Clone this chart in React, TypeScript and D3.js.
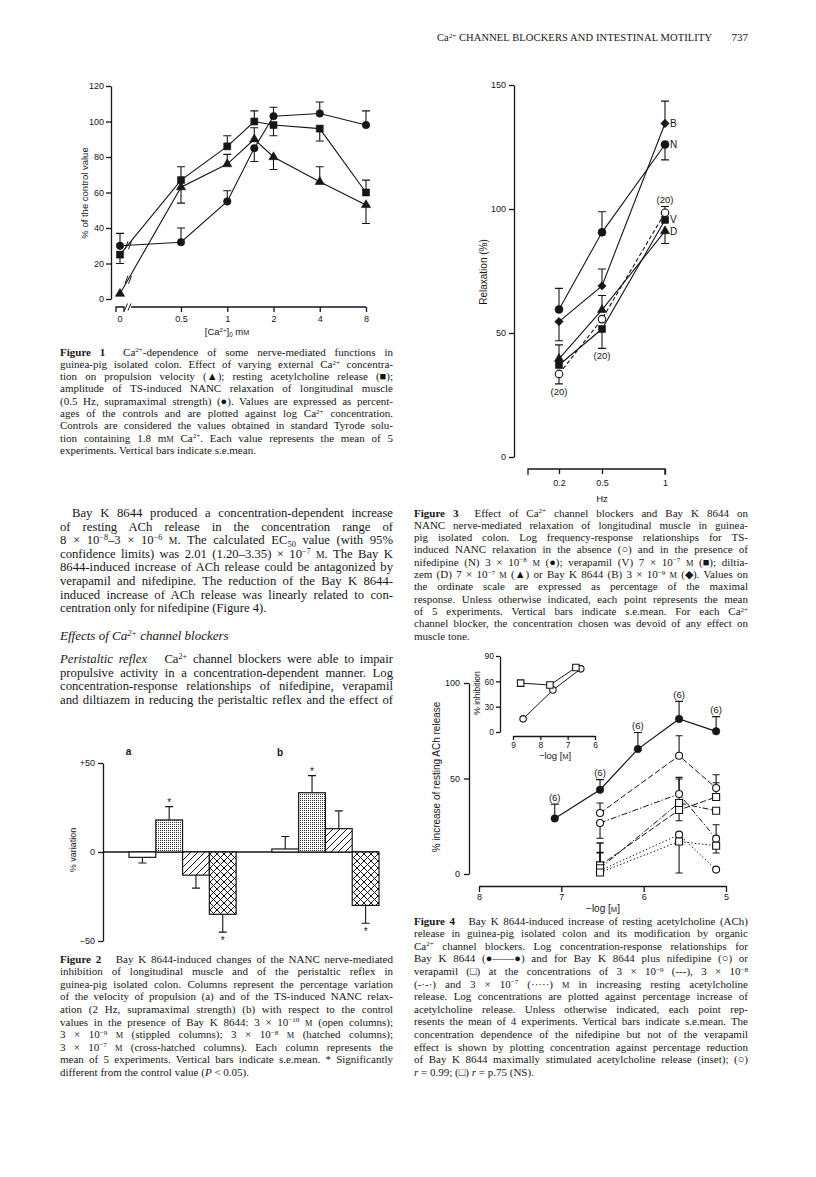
import React, { useEffect, useRef } from "react";
import * as d3 from "d3";

const SERIF = "'Liberation Serif', 'Times New Roman', Times, serif";
const SANS = "'Liberation Sans', Arial, Helvetica, sans-serif";
const INK = "#161616";

// ---- page header ----
const headerTitle = "Ca^{2+} CHANNEL BLOCKERS AND INTESTINAL MOTILITY";
const pageNumber = "737";

// ---- Figure 1: external Ca2+ (mM) ----
const fig1Conc = [0, 0.5, 1, 1.5, 2, 4, 8];
const fig1XTicks = [0, 0.5, 1, 2, 4, 8];
const fig1YTicks = [0, 20, 40, 60, 80, 100, 120];
const fig1Velocity = [3, 63, 76, 90, 80, 66, 53]; // triangles
const fig1VelocityErr = [0, -9, 5.5, 6.5, -7, 8.5, -10.5];
const fig1ACh = [25, 67, 86, 100, 98, 96, 60]; // squares
const fig1AChErr = [-5, 7.5, 6, 6, -6, -7, 7];
const fig1NANC = [30, 32, 55, 85, 103, 104.5, 98]; // circles
const fig1NANCErr = [7, 8, 6, -7.5, 5, 6.5, 8];

// ---- Figure 2: % variation ----
const fig2Groups = ["a", "b"];
const fig2Doses = ["3e-10", "3e-9", "3e-8", "3e-7"];
const fig2YTicks = [-50, 0, 50];
const fig2YLabels = ["\u221250", "0", "+50"];
const fig2Propulsion = [-3, 18, -13, -35];
const fig2PropulsionErr = [-3.2, 7.5, -7.3, -10];
const fig2Relaxation = [1.7, 33.3, 13.1, -30];
const fig2RelaxationErr = [7, 9.6, 10, -10];
const fig2Significant = [
  [false, true, false, true],
  [false, true, false, true],
];

// ---- Figure 3: relaxation vs Hz ----
const fig3Freq = [0.2, 0.5, 1];
const fig3FreqLabels = ["0.2", "0.5", "1"];
const fig3YTicks = [0, 50, 100, 150];
const fig3Control = [33.5, 55.6, 98.5];
const fig3ControlErr = [-4, 0, 2.5];
const fig3Nifedipine = [59.5, 90.6, 126];
const fig3NifedipineErr = [8.5, 8.3, -6.2];
const fig3Verapamil = [37.1, 51.6, 95.6];
const fig3VerapamilErr = [0, -7.8, 0];
const fig3Diltiazem = [39.6, 59.3, 91.1];
const fig3DiltiazemErr = [5.6, 5.8, -5];
const fig3BayK = [54.6, 69, 134.5];
const fig3BayKErr = [-7.7, 6.8, 9];

// ---- Figure 4: -log [M] ----
const fig4XTicks = [8, 7, 6, 5];
const fig4YTicks = [0, 50, 100];
const fig4BayKX = [7.08, 6.53, 6.07, 5.57, 5.12];
const fig4BayK = [29.1, 44.1, 65.4, 81.2, 74.7];
const fig4BayKErr = [7.5, 5.3, 8.7, 9.2, 7.7];
const fig4ComboX = [6.53, 5.57, 5.12];
const fig4Nif9 = [31.9, 61.9, 45];
const fig4Nif9Err = [5.3, 10.5, 7];
const fig4Nif8 = [26.7, 41.9, 18.5];
const fig4Nif8Err = [-8, 8.7, 7.3];
const fig4Nif7 = [1.8, 20.6, 2.3];
const fig4Nif7Err = [9.5, 0, 0];
const fig4Ver9 = [4.5, 33.5, 40.3];
const fig4Ver9Err = [11.7, -5.6, 7.5];
const fig4Ver8 = [3, 37.2, 33.1];
const fig4Ver8Err = [13.2, 12.5, 0];
const fig4Ver7 = [0.8, 17, 14.8];
const fig4Ver7Err = [10.2, -16.5, -3.8];
// inset
const insetXTicks = [9, 8, 7, 6];
const insetYTicks = [0, 30, 60, 90];
const insetNifX = [8.63, 7.54, 6.52];
const insetNif = [15.6, 49.7, 74.8];
const insetVerX = [8.72, 7.65, 6.7];
const insetVer = [57.9, 55.6, 76.4];

// ---- text ----
const fig1Caption = [
  "**Figure 1**  Ca^{2+}-dependence of some nerve-mediated functions in",
  "guinea-pig isolated colon. Effect of varying external Ca^{2+} concentra-",
  "tion on propulsion velocity (\u25B2); resting acetylcholine release (\u25A0);",
  "amplitude of TS-induced NANC relaxation of longitudinal muscle",
  "(0.5 Hz, supramaximal strength) (\u25CF). Values are expressed as percent-",
  "ages of the controls and are plotted against log Ca^{2+} concentration.",
  "Controls are considered the values obtained in standard Tyrode solu-",
  "tion containing 1.8 m%M Ca^{2+}. Each value represents the mean of 5",
  "experiments. Vertical bars indicate s.e.mean.",
];
const bodyPara1 = [
  "Bay K 8644 produced a concentration-dependent increase",
  "of resting ACh release in the concentration range of",
  "8 \u00D7 10^{\u22128}\u20133 \u00D7 10^{\u22126} %M. The calculated EC_{50} value (with 95%",
  "confidence limits) was 2.01 (1.20\u20133.35) \u00D7 10^{\u22127} %M. The Bay K",
  "8644-induced increase of ACh release could be antagonized by",
  "verapamil and nifedipine. The reduction of the Bay K 8644-",
  "induced increase of ACh release was linearly related to con-",
  "centration only for nifedipine (Figure 4).",
];
const heading = "Effects of Ca^{2+} channel blockers";
const bodyPara2 = [
  "*Peristaltic reflex*   Ca^{2+} channel blockers were able to impair",
  "propulsive activity in a concentration-dependent manner. Log",
  "concentration-response relationships of nifedipine, verapamil",
  "and diltiazem in reducing the peristaltic reflex and the effect of",
];
const fig2Caption = [
  "**Figure 2**   Bay K 8644-induced changes of the NANC nerve-mediated",
  "inhibition of longitudinal muscle and of the peristaltic reflex in",
  "guinea-pig isolated colon. Columns represent the percentage variation",
  "of the velocity of propulsion (a) and of the TS-induced NANC relax-",
  "ation (2 Hz, supramaximal strength) (b) with respect to the control",
  "values in the presence of Bay K 8644: 3 \u00D7 10^{\u221210} %M (open columns);",
  "3 \u00D7 10^{\u22129} %M (stippled columns); 3 \u00D7 10^{\u22128} %M (hatched columns);",
  "3 \u00D7 10^{\u22127} %M (cross-hatched columns). Each column represents the",
  "mean of 5 experiments. Vertical bars indicate s.e.mean. * Significantly",
  "different from the control value (*P* < 0.05).",
];
const fig3Caption = [
  "**Figure 3**  Effect of Ca^{2+} channel blockers and Bay K 8644 on",
  "NANC nerve-mediated relaxation of longitudinal muscle in guinea-",
  "pig isolated colon. Log frequency-response relationships for TS-",
  "induced NANC relaxation in the absence (\u25CB) and in the presence of",
  "nifedipine (N) 3 \u00D7 10^{\u22128} %M (\u25CF); verapamil (V) 7 \u00D7 10^{\u22127} %M (\u25A0); diltia-",
  "zem (D) 7 \u00D7 10^{\u22127} %M (\u25B2) or Bay K 8644 (B) 3 \u00D7 10^{\u22129} %M (\u25C6). Values on",
  "the ordinate scale are expressed as percentage of the maximal",
  "response. Unless otherwise indicated, each point represents the mean",
  "of 5 experiments. Vertical bars indicate s.e.mean. For each Ca^{2+}",
  "channel blocker, the concentration chosen was devoid of any effect on",
  "muscle tone.",
];
const fig4Caption = [
  "**Figure 4**   Bay K 8644-induced increase of resting acetylcholine (ACh)",
  "release in guinea-pig isolated colon and its modification by organic",
  "Ca^{2+} channel blockers. Log concentration-response relationships for",
  "Bay K 8644 (\u25CF\u2014\u2014\u25CF) and for Bay K 8644 plus nifedipine (\u25CB) or",
  "verapamil (\u25A1) at the concentrations of 3 \u00D7 10^{\u22129} (---), 3 \u00D7 10^{\u22128}",
  "(-\u00B7-\u00B7) and 3 \u00D7 10^{\u22127} (\u00B7\u00B7\u00B7\u00B7\u00B7) %M in increasing resting acetylcholine",
  "release. Log concentrations are plotted against percentage increase of",
  "acetylcholine release. Unless otherwise indicated, each point rep-",
  "resents the mean of 4 experiments. Vertical bars indicate s.e.mean. The",
  "concentration dependence of the nifedipine but not of the verapamil",
  "effect is shown by plotting concentration against percentage reduction",
  "of Bay K 8644 maximally stimulated acetylcholine release (inset); (\u25CB)",
  "*r* = 0.99; (\u25A1) *r* = p.75 (NS).",
];

// markup: ^{sup} _{sub} **bold** *italic* %M (small capital M)
function rich(text: any, str: string, fs: number) {
  const parts = str
    .split(/(\^\{[^}]*\}|_\{[^}]*\}|\*\*[^*]+\*\*|\*[^*\s][^*]*\*|%M)/g)
    .filter((p) => p);
  let shift = 0;
  for (const p of parts) {
    let t = p;
    let size: number | null = null;
    let target = 0;
    let weight: string | null = null;
    let style: string | null = null;
    if (p.startsWith("^{")) {
      t = p.slice(2, -1);
      size = fs * 0.64;
      target = -fs * 0.3;
    } else if (p.startsWith("_{")) {
      t = p.slice(2, -1);
      size = fs * 0.66;
      target = fs * 0.25;
    } else if (p.startsWith("**")) {
      t = p.slice(2, -2);
      weight = "bold";
    } else if (p.length > 2 && p.startsWith("*") && p.endsWith("*")) {
      t = p.slice(1, -1);
      style = "italic";
    } else if (p === "%M") {
      t = "M";
      size = fs * 0.76;
    }
    const ts = text.append("tspan").text(t);
    if (target !== shift) {
      ts.attr("dy", target - shift);
      shift = target;
    }
    if (size) ts.attr("font-size", size);
    if (weight) ts.attr("font-weight", weight);
    if (style) ts.attr("font-style", style);
  }
}

// justified paragraph: widen the word gaps to fill the column
function para(g: any, lines: string[], o: any) {
  lines.forEach((ln, i) => {
    const x = o.x + (i === 0 && o.indent ? o.indent : 0);
    const t = g
      .append("text")
      .attr("x", x)
      .attr("y", o.y + i * o.lh)
      .attr("font-family", SERIF)
      .attr("font-size", o.fs)
      .attr("fill", INK)
      .style("white-space", "pre");
    rich(t, ln, o.fs);
    if (i < lines.length - 1 || o.justifyLast) {
      const target = o.w - (x - o.x);
      const node = t.node();
      const natural = node.getComputedTextLength();
      const spaces = (node.textContent.match(/ /g) || []).length;
      if (spaces > 0) t.attr("word-spacing", (target - natural) / spaces);
      const after = node.getComputedTextLength();
      if (Math.abs(after - target) > 2) {
        t.attr("word-spacing", null).attr("textLength", target).attr("lengthAdjust", "spacing");
      }
    }
  });
}

function styleAxis(a: any, fs: number) {
  a.attr("font-family", SANS).attr("font-size", fs);
  a.selectAll(".domain").attr("stroke", INK).attr("stroke-width", 1.3);
  a.selectAll(".tick line").attr("stroke", INK).attr("stroke-width", 1.3);
  a.selectAll(".tick text").attr("fill", INK);
}

function marker(g: any, shape: string, cx: number, cy: number, filled: boolean, size: number) {
  const types: any = {
    circle: d3.symbolCircle,
    square: d3.symbolSquare,
    triangle: d3.symbolTriangle,
    diamond: d3.symbolSquare,
  };
  const area =
    shape === "circle"
      ? Math.PI * (size / 2) ** 2
      : shape === "triangle"
      ? size * size * 0.45
      : shape === "diamond"
      ? size * size * 0.55
      : size * size;
  g.append("path")
    .attr("d", d3.symbol(types[shape], area)())
    .attr("transform", `translate(${cx},${cy})${shape === "diamond" ? " rotate(45)" : ""}`)
    .attr("fill", filled ? INK : "#fff")
    .attr("stroke", INK)
    .attr("stroke-width", filled ? 0.6 : 1.1);
}

function errBar(g: any, x: number, y0: number, y1: number, cap = 4) {
  g.append("path")
    .attr("d", `M${x},${y0}V${y1}M${x - cap},${y1}H${x + cap}`)
    .attr("fill", "none")
    .attr("stroke", INK)
    .attr("stroke-width", 1.1);
}

function sansText(g: any, x: number, y: number, str: string, fs: number, anchor = "middle", rotate = false) {
  const t = g
    .append("text")
    .attr("font-family", SANS)
    .attr("font-size", fs)
    .attr("fill", INK)
    .attr("text-anchor", anchor);
  if (rotate) t.attr("transform", `translate(${x},${y}) rotate(-90)`);
  else t.attr("x", x).attr("y", y);
  rich(t, str, fs);
  return t;
}

function drawFig1(root: any) {
  const g = root.append("g");
  const x = d3.scaleLog().base(2).domain([0.5, 8]).range([181, 366]);
  const xAt = (c: number) => (c === 0 ? 120 : x(c));
  const y = d3.scaleLinear().domain([0, 120]).range([299, 86]);

  const ya = g
    .append("g")
    .attr("transform", "translate(111,0)")
    .call(d3.axisLeft(y).tickValues(fig1YTicks).tickSize(5).tickSizeOuter(0).tickPadding(2));
  styleAxis(ya, 9);

  const xa = g
    .append("g")
    .attr("transform", "translate(0,307)")
    .call(
      d3
        .axisBottom(x)
        .tickValues(fig1XTicks.filter((c) => c > 0))
        .tickFormat((d: any) => String(d))
        .tickSize(5)
        .tickSizeOuter(0)
        .tickPadding(4)
    );
  xa.select(".domain").remove();
  styleAxis(xa, 9);
  // axis with a break after zero
  g.append("path")
    .attr("d", `M${xAt(0) - 4},312V307H${xAt(0) + 4}V312M131,307H${x(8)}`)
    .attr("fill", "none")
    .attr("stroke", INK)
    .attr("stroke-width", 1.3);
  g.append("path")
    .attr("d", "M124.5,310.5L127.5,303.5M128,310.5L131,303.5")
    .attr("stroke", INK)
    .attr("stroke-width", 1);
  sansText(g, xAt(fig1XTicks[0]), 321.5, String(fig1XTicks[0]), 9);

  sansText(g, 227, 335, "[Ca^{2+}]_{0} m%M", 9.5);
  sansText(g, 88, 193, "% of the control value", 9.5, "middle", true);

  const series = [
    { v: fig1ACh, e: fig1AChErr, shape: "square", size: 7 },
    { v: fig1Velocity, e: fig1VelocityErr, shape: "triangle", size: 9 },
    { v: fig1NANC, e: fig1NANCErr, shape: "circle", size: 7.5 },
  ];
  const line = d3
    .line<number>()
    .x((_, i) => xAt(fig1Conc[i]))
    .y((v) => y(v));
  series.forEach((s) => {
    g.append("path").attr("d", line(s.v)).attr("fill", "none").attr("stroke", INK).attr("stroke-width", 1.1);
    s.v.forEach((v, i) => {
      if (s.e[i]) errBar(g, xAt(fig1Conc[i]), y(v), y(v + s.e[i]), 4);
    });
  });
  // break marks on the curves leaving zero
  [fig1NANC, fig1Velocity].forEach((vals) => {
    const bx = 128;
    const t = (bx - xAt(0)) / (xAt(0.5) - xAt(0));
    const by = y(vals[0]) + (y(vals[1]) - y(vals[0])) * t;
    g.append("path")
      .attr("d", `M${bx - 3},${by + 4}L${bx},${by - 4}M${bx + 0.5},${by + 4}L${bx + 3.5},${by - 4}`)
      .attr("stroke", INK)
      .attr("stroke-width", 1);
  });
  series.forEach((s) =>
    s.v.forEach((v, i) => marker(g, s.shape, xAt(fig1Conc[i]), y(v), true, s.size))
  );
}

function drawFig2(root: any) {
  const g = root.append("g");
  const y = d3.scaleLinear().domain([-50, 50]).range([941, 763]);
  const gx = d3.scaleBand().domain(fig2Groups).range([129, 379]).paddingInner(0.25).paddingOuter(0);
  const dx = d3.scaleBand().domain(fig2Doses).range([0, gx.bandwidth()]);

  const ya = g
    .append("g")
    .attr("transform", "translate(103,0)")
    .call(
      d3
        .axisLeft(y)
        .tickValues(fig2YTicks)
        .tickFormat((_: any, i: number) => fig2YLabels[i])
        .tickSize(5)
        .tickSizeOuter(0)
        .tickPadding(3)
    );
  styleAxis(ya, 9);
  g.append("path")
    .attr("d", `M103,${y(0)}H${(gx("b") as number) + gx.bandwidth()}`)
    .attr("stroke", INK)
    .attr("stroke-width", 1.3);

  sansText(g, 76, 850, "% variation", 9, "middle", true);
  g.append("text").attr("x", 128.5).attr("y", 754.5).attr("font-family", SANS).attr("font-size", 10).attr("font-weight", "bold").attr("text-anchor", "middle").attr("fill", INK).text(fig2Groups[0]);
  g.append("text").attr("x", 280).attr("y", 756).attr("font-family", SANS).attr("font-size", 10).attr("font-weight", "bold").attr("text-anchor", "middle").attr("fill", INK).text(fig2Groups[1]);

  const fills = ["#fff", "url(#stipple)", "url(#hatch)", "url(#cross)"];
  [fig2Propulsion, fig2Relaxation].forEach((vals, gi) => {
    const errs = gi === 0 ? fig2PropulsionErr : fig2RelaxationErr;
    vals.forEach((v, i) => {
      const bx = (gx(fig2Groups[gi]) as number) + (dx(fig2Doses[i]) as number);
      const w = dx.bandwidth();
      const cx = bx + w / 2;
      errBar(g, cx, y(v), y(v + errs[i]), 4);
      g.append("rect")
        .attr("x", bx)
        .attr("y", Math.min(y(v), y(0)))
        .attr("width", w)
        .attr("height", Math.abs(y(v) - y(0)))
        .attr("fill", fills[i])
        .attr("stroke", INK)
        .attr("stroke-width", 1.2);
      if (fig2Significant[gi][i]) {
        const ey = y(v + errs[i]);
        g.append("text")
          .attr("x", cx)
          .attr("y", errs[i] > 0 ? ey - 1 : ey + 12)
          .attr("font-family", SANS)
          .attr("font-size", 10)
          .attr("text-anchor", "middle")
          .attr("fill", INK)
          .text("*");
      }
    });
  });
}

function drawFig3(root: any) {
  const g = root.append("g");
  const x = d3.scaleLinear().domain(fig3Freq).range([559, 602, 665]);
  const y = d3.scaleLinear().domain([0, 150]).range([457, 85]);

  const ya = g
    .append("g")
    .attr("transform", "translate(514,0)")
    .call(d3.axisLeft(y).tickValues(fig3YTicks).tickSize(5).tickSizeOuter(0).tickPadding(3));
  styleAxis(ya, 9);
  const xa = g
    .append("g")
    .attr("transform", "translate(0,469)")
    .call(
      d3
        .axisBottom(x)
        .tickValues(fig3Freq)
        .tickFormat((_: any, i: number) => fig3FreqLabels[i])
        .tickSize(5)
        .tickSizeOuter(0)
        .tickPadding(6)
    );
  xa.select(".domain").remove();
  styleAxis(xa, 9);
  g.append("path")
    .attr("d", `M528,475V469H${x(1)}V475`)
    .attr("fill", "none")
    .attr("stroke", INK)
    .attr("stroke-width", 1.3);
  sansText(g, 602, 502, "Hz", 9.5);
  sansText(g, 487, 272, "Relaxation (%)", 10, "middle", true);

  const series = [
    { v: fig3Control, e: fig3ControlErr, shape: "circle", filled: false, size: 7.5, dash: "4,2.5", label: "" },
    { v: fig3Verapamil, e: fig3VerapamilErr, shape: "square", filled: true, size: 7, dash: null, label: "V" },
    { v: fig3Diltiazem, e: fig3DiltiazemErr, shape: "triangle", filled: true, size: 9, dash: null, label: "D" },
    { v: fig3BayK, e: fig3BayKErr, shape: "diamond", filled: true, size: 8, dash: null, label: "B" },
    { v: fig3Nifedipine, e: fig3NifedipineErr, shape: "circle", filled: true, size: 8, dash: null, label: "N" },
  ];
  const line = d3
    .line<number>()
    .x((_, i) => x(fig3Freq[i]))
    .y((v) => y(v));
  series.forEach((s) => {
    g.append("path")
      .attr("d", line(s.v))
      .attr("fill", "none")
      .attr("stroke", INK)
      .attr("stroke-width", 1.1)
      .attr("stroke-dasharray", s.dash);
    s.v.forEach((v, i) => {
      if (s.e[i]) errBar(g, x(fig3Freq[i]), y(v), y(v + s.e[i]), 4);
    });
  });
  series.forEach((s) => {
    s.v.forEach((v, i) => marker(g, s.shape, x(fig3Freq[i]), y(v), s.filled, s.size));
    if (s.label) sansText(g, x(1) + 5, y(s.v[2]) + 3.5, s.label, 10, "start");
  });
  sansText(g, x(fig3Freq[0]), y(fig3Control[0] + fig3ControlErr[0]) + 11, "(20)", 9.5);
  sansText(g, x(fig3Freq[1]), y(fig3Verapamil[1] + fig3VerapamilErr[1]) + 10.5, "(20)", 9.5);
  sansText(g, x(fig3Freq[2]), y(fig3Control[2] + fig3ControlErr[2]) - 3.5, "(20)", 9.5);
}

function drawFig4(root: any) {
  const g = root.append("g");
  const x = d3.scaleLinear().domain([8, 5]).range([479, 726]);
  const y = d3.scaleLinear().domain([0, 100]).range([874, 683]);

  const ya = g
    .append("g")
    .attr("transform", "translate(469,0)")
    .call(d3.axisLeft(y).tickValues(fig4YTicks).tickSize(5).tickSizeOuter(0).tickPadding(4));
  styleAxis(ya, 9);
  const xa = g
    .append("g")
    .attr("transform", "translate(0,886)")
    .call(
      d3
        .axisBottom(x)
        .tickValues(fig4XTicks)
        .tickFormat(d3.format("d"))
        .tickSize(6)
        .tickSizeOuter(0)
        .tickPadding(2)
    );
  styleAxis(xa, 9);
  sansText(g, 603, 912, "\u2212log [%M]", 10);
  sansText(g, 440, 777, "% increase of resting ACh release", 10, "middle", true);

  const combos = [
    { v: fig4Nif9, e: fig4Nif9Err, shape: "circle", dash: "6,2.5" },
    { v: fig4Nif8, e: fig4Nif8Err, shape: "circle", dash: "6,2,1.5,2" },
    { v: fig4Nif7, e: fig4Nif7Err, shape: "circle", dash: "1.4,2.2" },
    { v: fig4Ver9, e: fig4Ver9Err, shape: "square", dash: "6,2.5" },
    { v: fig4Ver8, e: fig4Ver8Err, shape: "square", dash: "6,2,1.5,2" },
    { v: fig4Ver7, e: fig4Ver7Err, shape: "square", dash: "1.4,2.2" },
  ];
  const comboLine = d3
    .line<number>()
    .x((_, i) => x(fig4ComboX[i]))
    .y((v) => y(v));
  combos.forEach((s) => {
    g.append("path")
      .attr("d", comboLine(s.v))
      .attr("fill", "none")
      .attr("stroke", INK)
      .attr("stroke-width", 1)
      .attr("stroke-dasharray", s.dash);
    s.v.forEach((v, i) => {
      if (s.e[i]) errBar(g, x(fig4ComboX[i]), y(v), y(v + s.e[i]), 3.5);
    });
  });
  const bayLine = d3
    .line<number>()
    .x((_, i) => x(fig4BayKX[i]))
    .y((v) => y(v));
  g.append("path").attr("d", bayLine(fig4BayK)).attr("fill", "none").attr("stroke", INK).attr("stroke-width", 1.2);
  fig4BayK.forEach((v, i) => {
    errBar(g, x(fig4BayKX[i]), y(v), y(v + fig4BayKErr[i]), 4);
    sansText(g, x(fig4BayKX[i]), y(v + fig4BayKErr[i]) - 3.5, "(6)", 9.5);
  });
  combos.forEach((s) => s.v.forEach((v, i) => marker(g, s.shape, x(fig4ComboX[i]), y(v), false, 7)));
  fig4BayK.forEach((v, i) => marker(g, "circle", x(fig4BayKX[i]), y(v), true, 7.5));

  // inset
  const xi = d3.scaleLinear().domain([9, 6]).range([513, 595]);
  const yi = d3.scaleLinear().domain([0, 90]).range([732, 656]);
  const yia = g
    .append("g")
    .attr("transform", "translate(500,0)")
    .call(d3.axisLeft(yi).tickValues(insetYTicks).tickSize(4).tickSizeOuter(0).tickPadding(2));
  styleAxis(yia, 8.5);
  const xia = g
    .append("g")
    .attr("transform", "translate(0,736)")
    .call(
      d3
        .axisBottom(xi)
        .tickValues(insetXTicks)
        .tickFormat(d3.format("d"))
        .tickSize(4)
        .tickSizeOuter(0)
        .tickPadding(1.5)
    );
  styleAxis(xia, 8.5);
  sansText(g, 555, 758.5, "\u2212log [%M]", 9.5);
  sansText(g, 480, 693, "% inhibition", 8.5, "middle", true);
  const nifLine = d3
    .line<number>()
    .x((_, i) => xi(insetNifX[i]))
    .y((v) => yi(v));
  const verLine = d3
    .line<number>()
    .x((_, i) => xi(insetVerX[i]))
    .y((v) => yi(v));
  g.append("path").attr("d", nifLine(insetNif)).attr("fill", "none").attr("stroke", INK).attr("stroke-width", 1);
  g.append("path").attr("d", verLine(insetVer)).attr("fill", "none").attr("stroke", INK).attr("stroke-width", 1);
  insetNif.forEach((v, i) => marker(g, "circle", xi(insetNifX[i]), yi(v), false, 6.5));
  insetVer.forEach((v, i) => marker(g, "square", xi(insetVerX[i]), yi(v), false, 6.5));
}

function drawText(root: any) {
  const g = root.append("g");
  const h = g
    .append("text")
    .attr("x", 437)
    .attr("y", 41)
    .attr("font-family", SERIF)
    .attr("font-size", 10.5)
    .attr("fill", INK)
    .attr("textLength", 275)
    .attr("lengthAdjust", "spacing");
  rich(h, headerTitle, 10.5);
  g.append("text")
    .attr("x", 748)
    .attr("y", 41)
    .attr("text-anchor", "end")
    .attr("font-family", SERIF)
    .attr("font-size", 11)
    .attr("fill", INK)
    .text(pageNumber);

  const capFs = 11;
  para(g, fig1Caption, { x: 60, y: 355.5, lh: 12.3, w: 333, fs: capFs });
  para(g, bodyPara1, { x: 60, y: 517, lh: 13.6, w: 333, fs: 12.7, indent: 12 });
  const hd = g
    .append("text")
    .attr("x", 60)
    .attr("y", 640)
    .attr("font-family", SERIF)
    .attr("font-size", 13)
    .attr("font-style", "italic")
    .attr("fill", INK);
  rich(hd, heading, 13);
  para(g, bodyPara2, { x: 60, y: 663, lh: 13.6, w: 333, fs: 12.7, justifyLast: true });
  para(g, fig2Caption, { x: 60, y: 962.5, lh: 12.6, w: 333, fs: capFs });
  para(g, fig3Caption, { x: 414, y: 516.5, lh: 12.3, w: 334, fs: capFs });
  para(g, fig4Caption, { x: 414, y: 924.5, lh: 12.6, w: 334, fs: capFs });
}

export default function App() {
  const ref = useRef<SVGSVGElement>(null);

  useEffect(() => {
    const svg = d3.select(ref.current);
    svg.selectAll("*").remove();

    const defs = svg.append("defs");
    const st = defs.append("pattern").attr("id", "stipple").attr("patternUnits", "userSpaceOnUse").attr("width", 2).attr("height", 2);
    st.append("rect").attr("width", 2).attr("height", 2).attr("fill", "#fff");
    st.append("rect").attr("width", 1).attr("height", 1).attr("fill", "#333");
    const ha = defs.append("pattern").attr("id", "hatch").attr("patternUnits", "userSpaceOnUse").attr("width", 7).attr("height", 7);
    ha.append("rect").attr("width", 7).attr("height", 7).attr("fill", "#fff");
    ha.append("path").attr("d", "M-1,1L1,-1M0,7L7,0M6,8L8,6").attr("stroke", INK).attr("stroke-width", 1);
    const cr = defs.append("pattern").attr("id", "cross").attr("patternUnits", "userSpaceOnUse").attr("width", 7).attr("height", 7);
    cr.append("rect").attr("width", 7).attr("height", 7).attr("fill", "#fff");
    cr.append("path")
      .attr("d", "M-1,1L1,-1M0,7L7,0M6,8L8,6M-1,6L1,8M0,0L7,7M6,-1L8,1")
      .attr("stroke", INK)
      .attr("stroke-width", 1);

    const root = svg.append("g");
    drawFig1(root);
    drawFig2(root);
    drawFig3(root);
    drawFig4(root);
    drawText(root);
  }, []);

  return (
    <svg
      ref={ref}
      width={816}
      height={1177}
      style={{ position: "absolute", left: 0, top: 0, background: "#fff" }}
    />
  );
}
